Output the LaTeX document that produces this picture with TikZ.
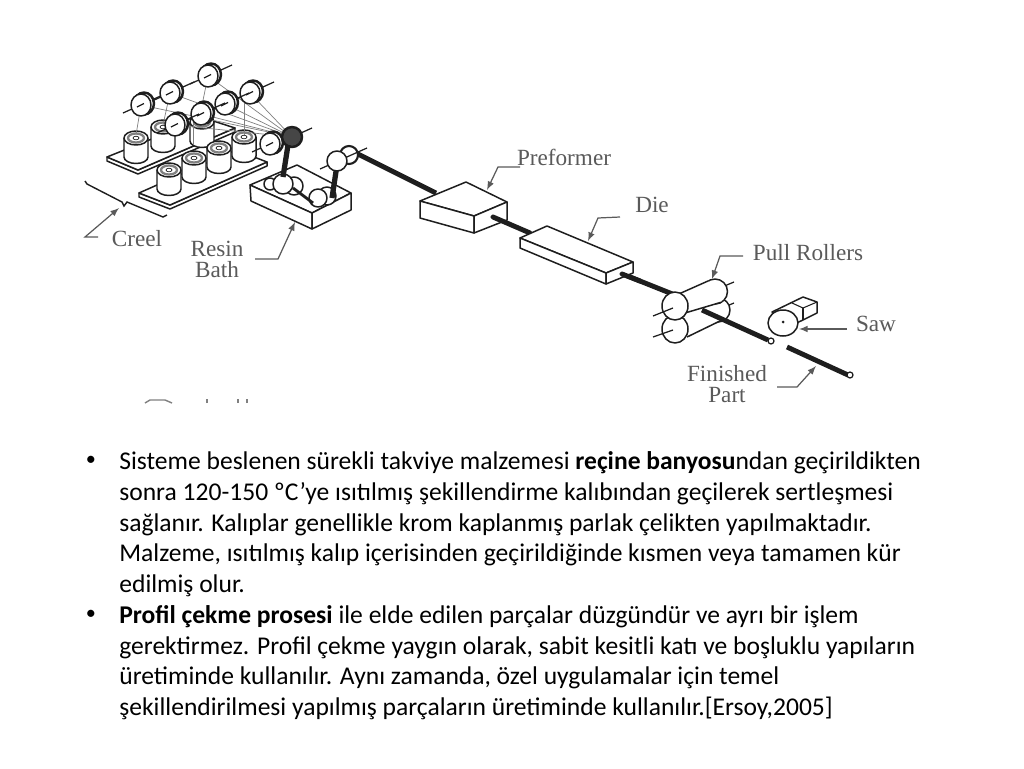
\documentclass[tikz,border=0pt]{standalone}
\usepackage{fontspec}
\setmainfont{Carlito}
\newfontfamily\labelfont{Liberation Serif}
\usepackage{xcolor}
\definecolor{labelgray}{HTML}{5A5A5A}
\definecolor{inkgray}{HTML}{1E1E1E}
\tikzset{
  part/.style={draw=inkgray,line width=0.85pt,line join=round,fill=white},
  thread/.style={draw=gray,line width=0.4pt},
  axle/.style={draw=inkgray,line width=0.7pt},
  rod/.style={draw=inkgray,line width=2.8pt},
  leader/.style={draw=labelgray,line width=0.7pt,-latex},
  partlabel/.style={font=\labelfont\fontsize{13.2}{15}\selectfont,text=labelgray,inner sep=0pt},
  bodyline/.style={anchor=base west,inner sep=0pt,font=\fontsize{14.55}{17}\selectfont,text=black},
  bulletmark/.style={anchor=center,inner sep=0pt,font=\fontsize{11.5}{14}\selectfont,text=black},
}
\newcommand{\pulley}[2]{%
  \begin{scope}[shift={(#1,#2)}]
    \draw[axle] (-18,8) -- (24,-11);
    \draw[part,line width=1.4pt] (3,-1.5) circle [x radius=10,y radius=11];
    \draw[part] (0,0) circle [x radius=10,y radius=11];
    \draw[axle] (-4,2) -- (3,-1.5);
  \end{scope}}
\newcommand{\spool}[2]{%
  \begin{scope}[shift={(#1,#2)}]
    \draw[part] (-12,0) -- (-12,19) arc [start angle=180,end angle=0,x radius=12,y radius=6.5] -- (12,0);
    \draw[part] (0,0) circle [x radius=12,y radius=7];
    \draw[draw=gray,line width=1.3pt] (0,0) circle [x radius=8,y radius=4.5];
    \draw[part,line width=0.4pt] (0,0) circle [x radius=3,y radius=1.8];
  \end{scope}}
\begin{document}
\begin{tikzpicture}[x=0.02cm,y=-0.02cm]
  \useasboundingbox[fill=white] (0,0) rectangle (1024,768);
  % boards
  \draw[part] (107,157) -- (138,170) -- (235,128) -- (235,132) -- (138,174) -- (107,161) -- cycle;
  \draw[part] (107,157) -- (204,118) -- (235,128) -- (138,170) -- cycle;
  \draw[part] (139,193) -- (170,205) -- (267,162) -- (267,166) -- (170,209) -- (139,197) -- cycle;
  \draw[part] (139,193) -- (236,150) -- (267,162) -- (170,205) -- cycle;
  % spools
  \spool{202}{122}
  \spool{163}{127}
  \spool{136}{138}
  \spool{244}{137}
  \spool{219}{148}
  \spool{194}{158}
  \spool{169}{170}
  % threads
  \coordinate (gather) at (292,137);
  \draw[thread] (141,105) -- (136,135);
  \draw[thread] (170,93) -- (163,125);
  \draw[thread] (208,76) -- (200,115);
  \draw[thread] (193,120) -- (193,145);
  \draw[thread] (244,100) -- (244,135);
  \draw[thread] (141,105) -- (gather);
  \draw[thread] (170,93) -- (gather);
  \draw[thread] (208,76) -- (gather);
  \draw[thread] (250,93) -- (gather);
  \draw[thread] (225,104) -- (gather);
  \draw[thread] (201,114) -- (gather);
  \draw[thread] (175,125) -- (gather);
  % creel pulleys
  \pulley{141}{105}
  \pulley{170}{93}
  \pulley{208}{76}
  \pulley{250}{93}
  \pulley{225}{104}
  \pulley{201}{114}
  \pulley{175}{125}
  \pulley{270}{144}
  \draw[axle] (292,137) -- (312,128);
  \draw[part,fill=gray!55!black,line width=1.4pt] (gather) circle [radius=10];
  % resin bath
  \draw[part] (250,185) -- (297,165) -- (351,193) -- (312,213) -- cycle;
  \draw[part] (250,185) -- (251,201) -- (312,229) -- (312,213) -- cycle;
  \draw[part] (312,213) -- (312,229) -- (351,210) -- (351,193) -- cycle;
  \draw[part] (270,184) circle [radius=6];
  \draw[part] (294,186) circle [radius=9];
  \draw[part] (283,184) circle [radius=10];
  \draw[part] (327,196) circle [radius=9];
  \draw[part] (318,198) circle [radius=9];
  \draw[draw=inkgray,line width=1.6pt] (293,188) -- (313,203);
  \draw[draw=inkgray,line width=3pt] (288,145) -- (283,177);
  \draw[draw=inkgray,line width=3pt] (337,165) -- (332,198);
  % main roving
  \draw[rod] (350,150) -- (436,193);
  \draw[part,line width=1.2pt] (349,155) circle [radius=9];
  \draw[axle] (320,169) -- (367,148);
  \draw[part] (337,161) circle [radius=10];
  % preformer
  \draw[part] (420,201) -- (466,182) -- (507,202) -- (474,216) -- cycle;
  \draw[part] (420,201) -- (420,218) -- (474,233) -- (474,216) -- cycle;
  \draw[part] (474,216) -- (474,233) -- (507,220) -- (507,202) -- cycle;
  \draw[rod,line cap=round] (493,217) -- (530,233);
  % die
  \draw[rod] (620,273) -- (680,297);
  \draw[part] (520,238) -- (547,226) -- (633,262) -- (606,273) -- cycle;
  \draw[part] (520,238) -- (520,248) -- (606,284) -- (606,273) -- cycle;
  \draw[part] (606,273) -- (606,284) -- (633,273) -- (633,262) -- cycle;
  \draw[rod,line cap=round] (622,274) -- (640,281);
  % pull rollers
  \draw[axle] (722,308) -- (734,303);
  \draw[axle] (722,287) -- (734,282);
  \draw[part] (718,310) circle [radius=12];
  \fill[white] (671,319) -- (712,300) -- (724,319) -- (687,337) -- cycle;
  \draw[part] (687,337) -- (722,320);
  \draw[part] (675,329) circle [x radius=13,y radius=14];
  \draw[axle] (653,337) -- (673,330);
  \draw[part] (715,291.5) circle [radius=12.5];
  \fill[white] (672,297) -- (708,281) -- (722,302) -- (685,313) -- cycle;
  \draw[part] (672,297) -- (708,281);
  \draw[part] (685,313) -- (722,302);
  \draw[part] (675,306) circle [x radius=13,y radius=14];
  \draw[axle] (653,316) -- (673,308);
  \draw[rod] (702,310) -- (768,340);
  \draw[part,line width=0.7pt] (771,341) circle [radius=3];
  % saw
  \draw[part] (772,312) -- (803,297) -- (817,302) -- (817,313) -- (803,320) -- (790,326) -- cycle;
  \draw[part,line width=0.6pt] (803,308) -- (817,302);
  \draw[part,line width=0.6pt] (803,308) -- (803,320);
  \draw[part,line width=0.6pt] (803,308) -- (792,303);
  \draw[part] (783,323) circle [x radius=15,y radius=13];
  \fill[inkgray] (783,322) circle [radius=1.5];
  % finished part
  \draw[rod] (787,347) -- (848,375);
  \draw[part,line width=0.7pt] (850,375) circle [radius=3];
  % creel brace
  \draw[draw=inkgray,line width=0.8pt] (85,181) -- (87,184) -- (122,202) -- (124,206) -- (127,202) -- (163,217) -- (167,215);
  % labels
  \node[partlabel] (lblCreel) at (137,239) {Creel};
  \node[partlabel] (lblResin) at (217,249) {Resin};
  \node[partlabel] (lblBath) at (217,270) {Bath};
  \node[partlabel] (lblPreformer) at (564,157) {Preformer};
  \node[partlabel] (lblDie) at (652,205) {Die};
  \node[partlabel] (lblRollers) at (808,253) {Pull Rollers};
  \node[partlabel] (lblSaw) at (876,324) {Saw};
  \node[partlabel] (lblFinished) at (727,374) {Finished};
  \node[partlabel] (lblPart) at (727,395) {Part};
  % leaders
  \coordinate (creelStart) at (98,237);
  \coordinate (creelBend) at (85,237);
  \coordinate (creelTip) at (119,208);
  \draw[leader] (creelStart) -- (creelBend) -- (creelTip);
  \coordinate (resinStart) at (255,259);
  \coordinate (resinBend) at (278,259);
  \coordinate (resinTip) at (295,222);
  \draw[leader] (resinStart) -- (resinBend) -- (resinTip);
  \coordinate (preStart) at (520,167);
  \coordinate (preBend) at (498,167);
  \coordinate (preTip) at (487,190);
  \draw[leader] (preStart) -- (preBend) -- (preTip);
  \coordinate (dieStart) at (620,217);
  \coordinate (dieBend) at (598,218);
  \coordinate (dieTip) at (588,241);
  \draw[leader] (dieStart) -- (dieBend) -- (dieTip);
  \coordinate (rollStart) at (743,256);
  \coordinate (rollBend) at (720,256);
  \coordinate (rollTip) at (712,279);
  \draw[leader] (rollStart) -- (rollBend) -- (rollTip);
  \coordinate (sawStart) at (847,329);
  \coordinate (sawTip) at (799,329);
  \draw[leader] (sawStart) -- (sawTip);
  \coordinate (finStart) at (777,387);
  \coordinate (finBend) at (797,387);
  \coordinate (finTip) at (816,366);
  \draw[leader] (finStart) -- (finBend) -- (finTip);
  % cut off marks under the figure
  \draw[draw=gray,line width=0.8pt] (145,403) -- (150,400) -- (165,400) -- (172,403);
  \draw[draw=gray,line width=0.8pt] (207,403) -- (207,399);
  \draw[draw=gray,line width=0.8pt] (238,403) -- (238,399);
  \draw[draw=gray,line width=0.8pt] (247,403) -- (247,399);
  % text
  \node[bulletmark] (bulletA) at (91,461) {•};
  \node[bodyline] (lineA) at (119,469) {Sisteme beslenen sürekli takviye malzemesi \textbf{reçine banyosu}ndan geçirildikten};
  \node[bodyline] (lineB) at (119,500) {sonra 120-150 ºC’ye ısıtılmış şekillendirme kalıbından geçilerek sertleşmesi};
  \node[bodyline] (lineC) at (119,531) {sağlanır. Kalıplar genellikle krom kaplanmış parlak çelikten yapılmaktadır.};
  \node[bodyline] (lineD) at (119,561) {Malzeme, ısıtılmış kalıp içerisinden geçirildiğinde kısmen veya tamamen kür};
  \node[bodyline] (lineE) at (119,592) {edilmiş olur.};
  \node[bulletmark] (bulletB) at (91,615) {•};
  \node[bodyline] (lineF) at (119,623) {\textbf{Profil çekme prosesi} ile elde edilen parçalar düzgündür ve ayrı bir işlem};
  \node[bodyline] (lineG) at (119,654) {gerektirmez. Profil çekme yaygın olarak, sabit kesitli katı ve boşluklu yapıların};
  \node[bodyline] (lineH) at (119,684) {üretiminde kullanılır. Aynı zamanda, özel uygulamalar için temel};
  \node[bodyline] (lineI) at (119,715) {şekillendirilmesi yapılmış parçaların üretiminde kullanılır.[Ersoy,2005]};
\end{tikzpicture}
\end{document}
